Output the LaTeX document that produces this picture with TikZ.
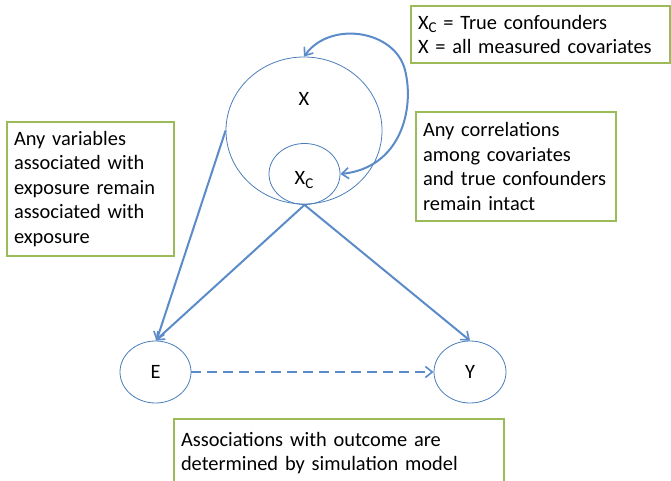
\documentclass[tikz,border=0pt]{standalone}
\usepackage{fontspec}
\setmainfont{Carlito}
\usetikzlibrary{arrows.meta,shapes.geometric}
\definecolor{lineblue}{HTML}{4A7EBB}
\definecolor{arrowblue}{HTML}{5B8BC9}
\definecolor{boxgreen}{HTML}{9BBB59}
\newcommand{\Xc}{X\raisebox{-0.35ex}{\fontsize{15}{15}\selectfont C}}
\begin{document}
\begin{tikzpicture}[x=1pt,y=-1pt,
  every node/.style={font=\fontsize{20.4}{24.5}\selectfont},
  circ/.style={ellipse,draw=lineblue,line width=0.8pt,inner sep=0pt},
  note/.style={draw=boxgreen,line width=1.2pt,fill=white,align=left,inner xsep=7pt,inner ysep=0pt,
    execute at begin node={\hyphenpenalty=10000\exhyphenpenalty=10000}},
  arr/.style={draw=arrowblue,line width=2pt,-{Straight Barb[length=7pt,width=11pt,line width=1.6pt]}},
]
\useasboundingbox (0,0) rectangle (671,481);
% circles
\node[circ,minimum width=156pt,minimum height=147pt] (X) at (304,130.5) {};
\node at (304,99) {X};
\node[circ,minimum width=71pt,minimum height=61pt] (Xc) at (304.5,174) {};
\node at (304,180) {\Xc};
\node[circ,minimum width=71pt,minimum height=62pt] (E) at (155.5,372) {E};
\node[circ,minimum width=72pt,minimum height=62pt] (Y) at (470,372) {Y};
% notes
\node[note,text width=245pt,minimum height=57pt] (n1) at (540.5,34.5) {\Xc{} = True confounders\\X = all measured covariates};
\node[note,text width=186pt,minimum height=109pt] (n2) at (516,166.5) {Any correlations\\among covariates\\and true confounders\\remain intact};
\node[note,text width=153pt,minimum height=134pt] (n3) at (90.5,189) {Any variables\\associated with\\exposure remain\\associated with\\exposure};
\node[note,text width=316pt,minimum height=68pt] (n4) at (339,453) {Associations with outcome are\\determined by simulation model};
% connectors
\coordinate (xb) at (Xc.south);
\draw[arr] (xb) -- (E.north);
\draw[arr] (xb) -- (Y.north);
\draw[arr] (X.west) -- ([xshift=1pt]E.north);
\draw[arr,dashed,dash pattern=on 10pt off 6pt] (E.east) -- (Y.west);
\draw[draw=arrowblue,line width=2pt,{Straight Barb[length=7pt,width=11pt,line width=1.6pt]}-{Straight Barb[length=7pt,width=11pt,line width=1.6pt]}]
  (Xc.east) .. controls (400,168) and (415,110) .. (405,70) .. controls (395,30) and (330,20) .. (X.north);
\end{tikzpicture}
\end{document}
